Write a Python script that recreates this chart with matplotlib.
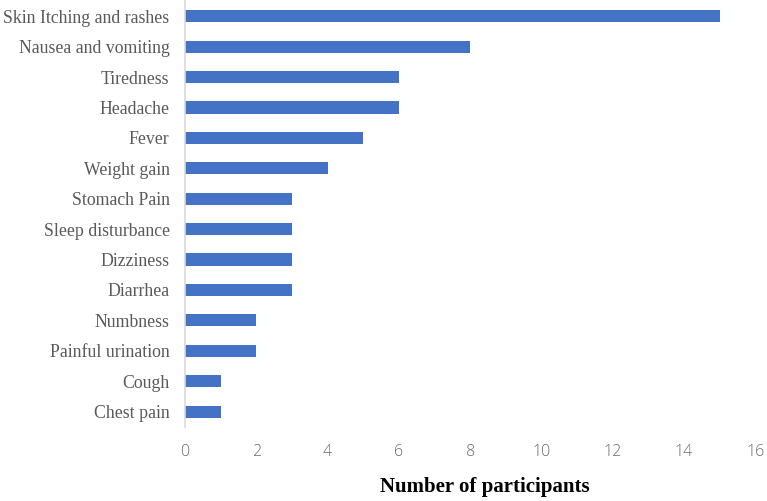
import matplotlib
matplotlib.use("Agg")
import matplotlib.pyplot as plt

categories = ["Skin Itching and rashes", "Nausea and vomiting", "Tiredness", "Headache",
              "Fever", "Weight gain", "Stomach Pain", "Sleep disturbance", "Dizziness",
              "Diarrhea", "Numbness", "Painful urination", "Cough", "Chest pain"]
values = [15, 8, 6, 6, 5, 4, 3, 3, 3, 3, 2, 2, 1, 1]
xticks = [0, 2, 4, 6, 8, 10, 12, 14, 16]

fig = plt.figure(figsize=(7.67, 5.01), dpi=100)
ax = fig.add_axes([0.241, 0.148, 0.744, 0.85])
ypos = list(range(len(categories)))[::-1]
ax.barh(ypos, values, height=0.4, color="#4472C4")
ax.set_ylim(-0.5, len(categories) - 0.5)
ax.set_xlim(0, 16)
ax.set_yticks(ypos)
ax.set_yticklabels(categories, family="Liberation Serif", fontsize=12.8, color="#595959")
ax.set_xticks(xticks)
ax.set_xticklabels([str(t) for t in xticks], family="Open Sans", fontsize=11.5,
                   color="#6a6a6a", fontweight="light")
ax.tick_params(axis="both", length=0)
ax.tick_params(axis="x", pad=12)
ax.tick_params(axis="y", pad=11)
for s in ["top", "right", "bottom"]:
    ax.spines[s].set_visible(False)
ax.spines["left"].set_color("#D9D9D9")
ax.spines["left"].set_linewidth(1.2)
ax.set_xlabel("Number of participants", family="Liberation Serif", fontsize=15,
              fontweight="bold")
ax.xaxis.set_label_coords(0.525, -0.117)
fig.savefig("out.png", dpi=100)
